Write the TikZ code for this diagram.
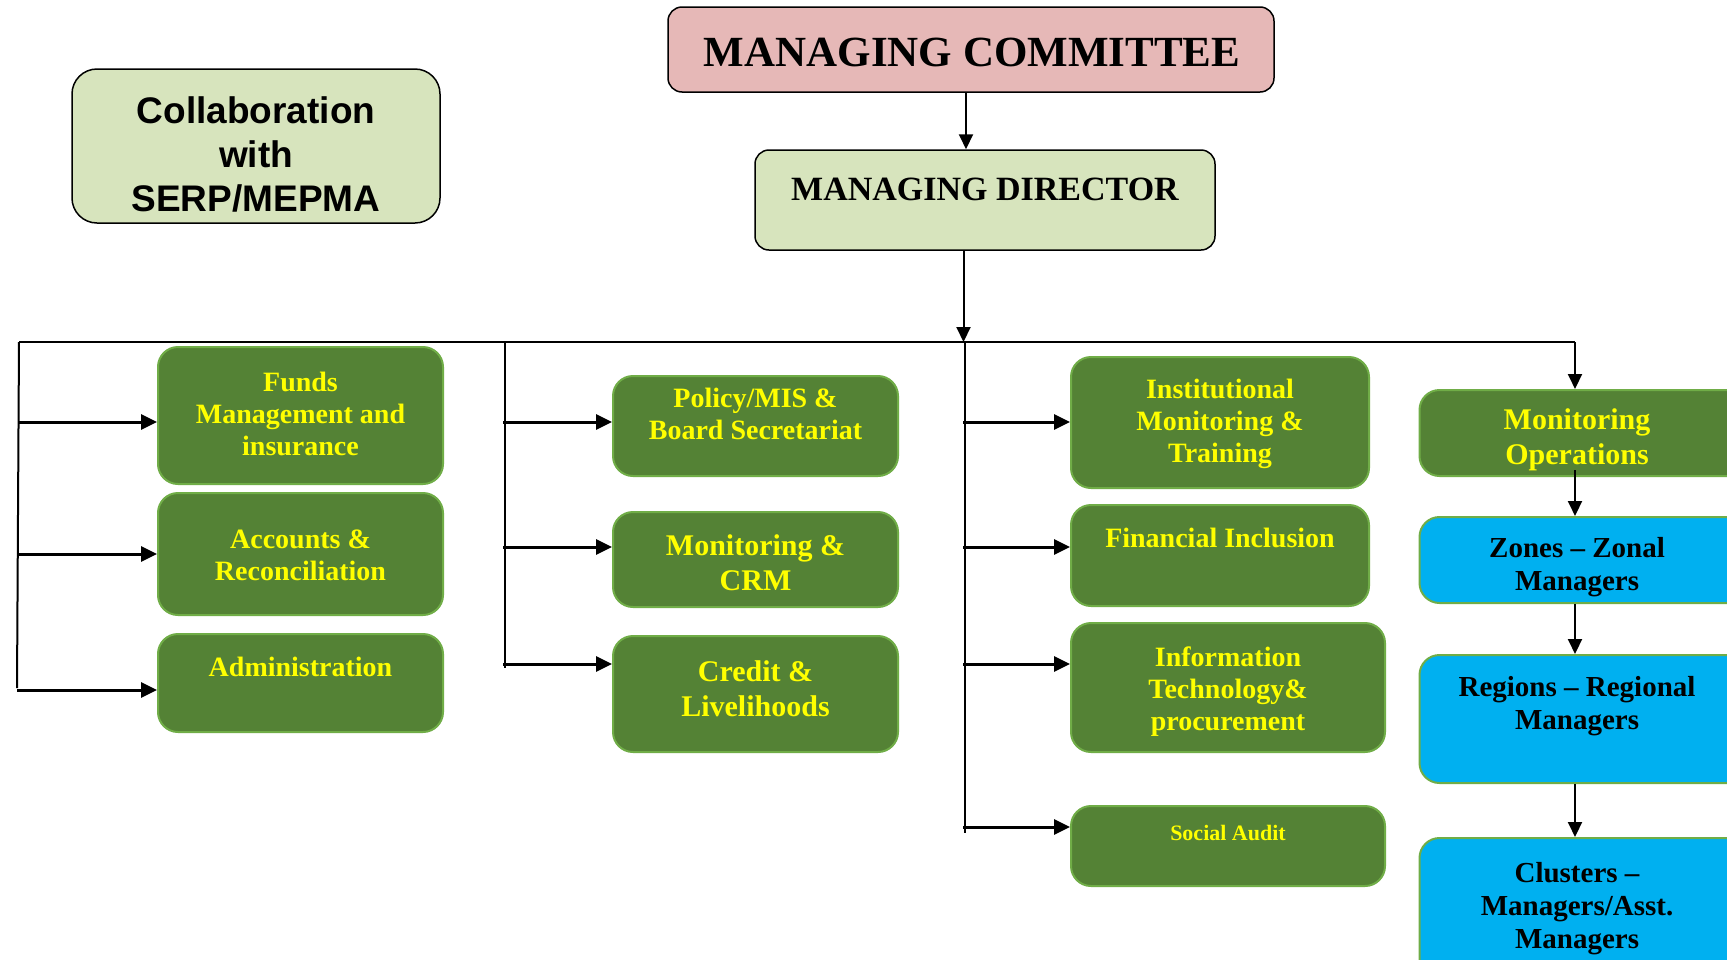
\documentclass[tikz,border=0pt]{standalone}
\usepackage{fontspec}
\setmainfont{Liberation Serif}
\newfontfamily\arialfont{Liberation Sans}
\usetikzlibrary{arrows.meta}
\definecolor{gfill}{HTML}{548235}
\definecolor{gborder}{HTML}{70AD47}
\definecolor{ytext}{HTML}{FFFF00}
\definecolor{lgreen}{HTML}{D7E4BD}
\definecolor{pinkc}{HTML}{E6B8B7}
\definecolor{cyanc}{HTML}{00B0F0}
\tikzset{
  gbox/.style={draw=gborder, line width=2pt, fill=gfill, rounded corners=20pt, inner sep=0pt},
  cbox/.style={draw=gborder, line width=2pt, fill=cyanc, rounded corners=20pt, inner sep=0pt},
  topbox/.style={draw=black, line width=1.5pt, rounded corners=14pt, inner sep=0pt},
  gtext/.style={text=ytext, font=\bfseries\fontsize{28}{32}\selectfont, align=center, inner sep=0pt},
  gtextL/.style={text=ytext, font=\bfseries\fontsize{30}{35}\selectfont, align=center, inner sep=0pt},
  ctext/.style={text=black, font=\bfseries\fontsize{29}{33}\selectfont, align=center, inner sep=0pt},
  bus/.style={draw=black, line width=2pt},
  harr/.style={draw=black, line width=3pt, -{Triangle[length=16pt,width=15pt]}},
  varr/.style={draw=black, line width=2pt, -{Triangle[length=15pt,width=14pt]}},
}
\begin{document}
\begin{tikzpicture}[x=1pt,y=-1pt]
\useasboundingbox (0,0) rectangle (1727,959);
\clip (0,0) rectangle (1727,959);
\fill[white] (0,0) rectangle (1727,959);

% top boxes
\node[topbox, fill=lgreen, rounded corners=25pt, minimum width=368pt, minimum height=154pt] (collab) at (256,146) {};
\node[font=\arialfont\bfseries\fontsize{37}{44}\selectfont, align=center, inner sep=0pt] (collabT) at (256,154) {Collaboration\\with\\SERP/MEPMA};

\node[topbox, fill=pinkc, minimum width=606pt, minimum height=85pt] (mc) at (971,49.5) {};
\node[font=\bfseries\fontsize{43}{50}\selectfont, inner sep=0pt] (mcT) at (972,52) {MANAGING COMMITTEE};

\node[topbox, fill=lgreen, minimum width=460pt, minimum height=100pt] (md) at (985,200) {};
\node[font=\bfseries\fontsize{34}{40}\selectfont, inner sep=0pt] (mdT) at (985,189) {MANAGING DIRECTOR};

\coordinate (a1) at (966,0);
\draw[varr] (a1 |- mc.south) -- (a1 |- md.north);

% bus
\coordinate (busL) at (19,342);
\coordinate (busM) at (963.5,342);
\coordinate (busR) at (1575,342);
\draw[varr] (busM |- md.south) -- (busM);
\draw[bus] (busL) -- (busR);

% vertical branch lines
\coordinate (v1b) at (17,688);
\coordinate (v2t) at (505,342);
\coordinate (v2b) at (505,668);
\coordinate (v3t) at (965,342);
\coordinate (v3b) at (965,833);
\draw[bus] (busL) -- (v1b);
\draw[bus] (v2t) -- (v2b);
\draw[bus] (v3t) -- (v3b);

% column 1
\node[gbox, minimum width=285pt, minimum height=137pt] (funds) at (300.5,415.5) {};
\node[gtext] (fundsT) at (300.5,414) {Funds\\Management and\\insurance};
\node[gbox, minimum width=285pt, minimum height=122pt] (acc) at (300.5,554) {};
\node[gtext] (accT) at (300.5,555) {Accounts \&\\Reconciliation};
\node[gbox, minimum width=285pt, minimum height=98pt] (adm) at (300.5,683) {};
\node[gtext] (admT) at (300.5,667) {Administration};

\coordinate (p11) at (18,422);
\coordinate (p12) at (18,554);
\coordinate (p13) at (17,690);
\draw[harr] (p11) -- (p11 -| funds.west);
\draw[harr] (p12) -- (p12 -| acc.west);
\draw[harr] (p13) -- (p13 -| adm.west);

% column 2
\node[gbox, minimum width=285pt, minimum height=100pt] (pol) at (755.5,426) {};
\node[gtext] (polT) at (755.5,414) {Policy/MIS \&\\Board Secretariat};
\node[gbox, minimum width=285pt, minimum height=95pt] (crm) at (755.5,559.5) {};
\node[gtextL] (crmT) at (755.5,563) {Monitoring \&\\CRM};
\node[gbox, minimum width=285pt, minimum height=116pt] (cred) at (755.5,694) {};
\node[gtextL] (credT) at (755.5,689) {Credit \&\\Livelihoods};

\coordinate (p21) at (503,422);
\coordinate (p22) at (503,547);
\coordinate (p23) at (503,664);
\draw[harr] (p21) -- (p21 -| pol.west);
\draw[harr] (p22) -- (p22 -| crm.west);
\draw[harr] (p23) -- (p23 -| cred.west);

% column 3
\node[gbox, minimum width=298pt, minimum height=131pt] (inst) at (1220,422.5) {};
\node[gtext] (instT) at (1220,424) {Institutional\\Monitoring \&\\Training};
\node[gbox, minimum width=298pt, minimum height=101pt] (fin) at (1220,555.5) {};
\node[gtext] (finT) at (1220,538) {Financial Inclusion};
\node[gbox, minimum width=314pt, minimum height=129pt] (it) at (1228,687.5) {};
\node[gtext] (itT) at (1228,692) {Information\\Technology\&\\procurement};
\node[gbox, minimum width=314pt, minimum height=80pt] (soc) at (1228,846) {};
\node[text=ytext, font=\bfseries\fontsize{22}{26}\selectfont, inner sep=0pt] (socT) at (1228,833) {Social Audit};

\coordinate (p31) at (963,422);
\coordinate (p32) at (963,547);
\coordinate (p33) at (963,664);
\coordinate (p34) at (963,827);
\draw[harr] (p31) -- (p31 -| inst.west);
\draw[harr] (p32) -- (p32 -| fin.west);
\draw[harr] (p33) -- (p33 -| it.west);
\draw[harr] (p34) -- (p34 -| soc.west);

% column 4
\node[gbox, minimum width=340pt, minimum height=86pt] (mo) at (1589.5,433) {};
\node[ctext, text=ytext, font=\bfseries\fontsize{30}{35}\selectfont] (moT) at (1577,440) {Monitoring\\Operations};
\node[cbox, minimum width=340pt, minimum height=86pt] (zon) at (1589.5,560) {};
\node[ctext] (zonT) at (1577,567) {Zones -- Zonal\\Managers};
\node[cbox, minimum width=340pt, minimum height=128pt] (reg) at (1589.5,719) {};
\node[ctext] (regT) at (1577,706) {Regions -- Regional\\Managers};
\node[cbox, minimum width=340pt, minimum height=170pt] (clu) at (1589.5,923) {};
\node[ctext] (cluT) at (1577,909) {Clusters --\\Managers/Asst.\\Managers};

\coordinate (mob) at (1575,470);
\draw[varr] (busR) -- (busR |- mo.north);
\draw[varr] (mob) -- (mob |- zon.north);
\draw[varr] (busR |- zon.south) -- (busR |- reg.north);
\draw[varr] (busR |- reg.south) -- (busR |- clu.north);
\end{tikzpicture}
\end{document}
